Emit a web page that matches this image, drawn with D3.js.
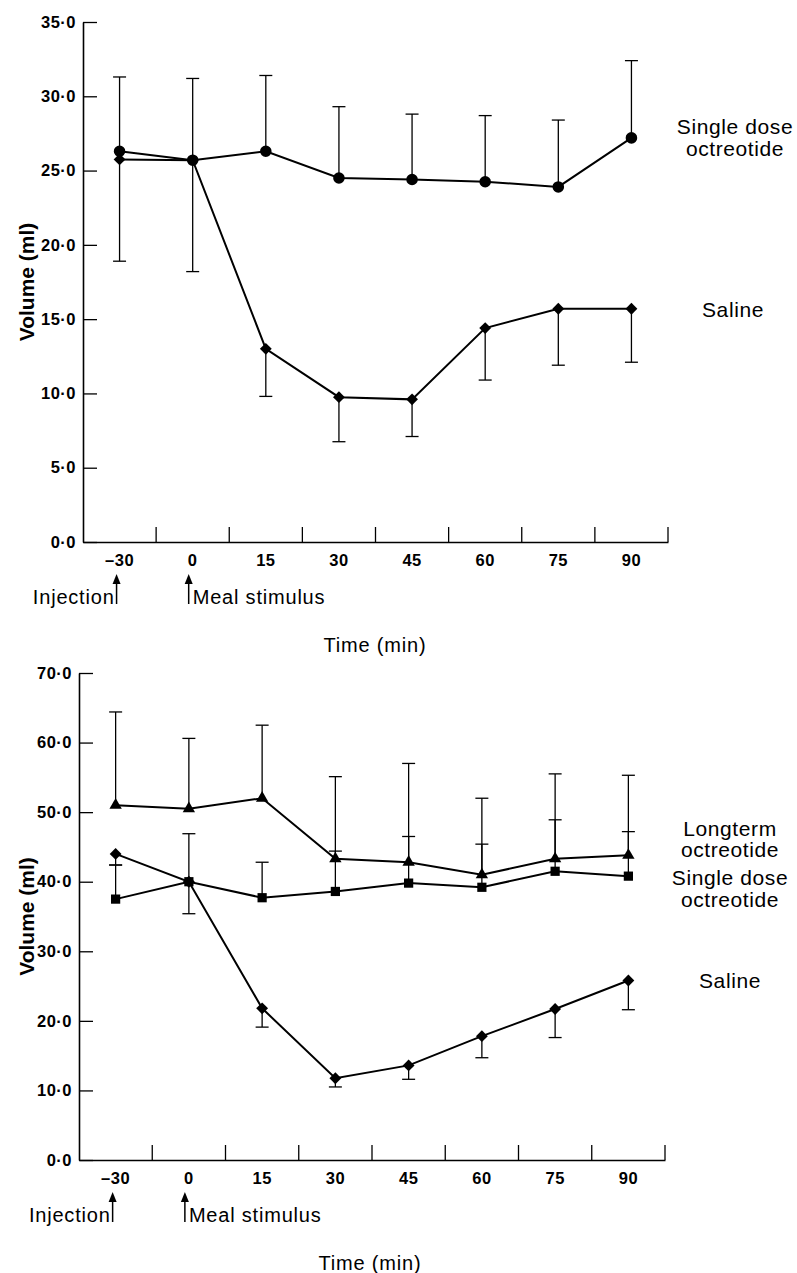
<!DOCTYPE html>
<html>
<head>
<meta charset="utf-8">
<script src="https://cdn.jsdelivr.net/npm/d3@7"></script>
<style>
body { margin: 0; background: #fff; }
text { font-family: "Liberation Sans", Arial, Helvetica, sans-serif; fill: #000; }
</style>
</head>
<body>
<div id="chart"></div>
<script>
var times = ["-30", "0", "15", "30", "45", "60", "75", "90"];
var timeLabels = ["\u201330", "0", "15", "30", "45", "60", "75", "90"];

// upper panel
var topTicks = [0, 5, 10, 15, 20, 25, 30, 35];
var topSingle = [26.3, 25.7, 26.3, 24.5, 24.4, 24.25, 23.9, 27.2];
var topSingleHi = [31.3, 31.2, 31.4, 29.3, 28.8, 28.7, 28.4, 32.4];
var topSaline = [25.75, 25.7, 13.0, 9.75, 9.6, 14.4, 15.7, 15.7];
var topSalineLo = [18.9, 18.2, 9.8, 6.75, 7.1, 10.9, 11.9, 12.1];

// lower panel
var botTicks = [0, 10, 20, 30, 40, 50, 60, 70];
var botLong = [51.0, 50.5, 52.0, 43.3, 42.8, 41.0, 43.3, 43.8];
var botLongHi = [64.4, 60.6, 62.5, 55.1, 57.0, 52.0, 55.5, 55.3];
var botSingle = [37.5, 40.0, 37.7, 38.6, 39.8, 39.2, 41.5, 40.8];
var botSingleHi = [42.4, 46.9, 42.8, 44.4, 46.5, 45.4, 48.9, 47.2];
var botSaline = [44.0, 40.0, 21.8, 11.75, 13.6, 17.8, 21.7, 25.8];
var botSalineLo = [42.4, 35.4, 19.1, 10.5, 11.6, 14.7, 17.6, 21.6];

var width = 797, height = 1273;

var svg = d3.select("#chart").append("svg")
    .attr("width", width)
    .attr("height", height)
    .attr("xmlns", "http://www.w3.org/2000/svg");

var fmt = function(d) { return d3.format(".1f")(d).replace(".", "\u00b7"); };
var tickFont = "'Liberation Sans', Arial, sans-serif";

var symCircle = d3.symbol().type(d3.symbolCircle).size(105)();
var symDiamond = d3.symbol().type(d3.symbolSquare).size(70)();
var symSquare = d3.symbol().type(d3.symbolSquare).size(85)();
var symTriangle = d3.symbol().type(d3.symbolTriangle).size(66)();

function panel(p) {
    var g = svg.append("g");

    var x = d3.scaleBand().domain(times).range([p.x0, p.x1]);
    var y = d3.scaleLinear().domain([0, p.ymax]).range([p.yBottom, p.yTop]);
    var cx = function(i) { return x(times[i]) + x.bandwidth() / 2; };

    // y axis
    var ya = g.append("g")
        .attr("transform", "translate(" + p.x0 + ",0)")
        .call(d3.axisLeft(y).tickValues(p.ticks).tickSizeInner(-14).tickSizeOuter(0)
            .tickPadding(7).tickFormat(fmt));
    ya.select(".domain").attr("stroke", "#000").attr("stroke-width", 1.6);
    ya.selectAll(".tick line").attr("stroke", "#000").attr("stroke-width", 1.3);
    ya.selectAll(".tick text")
        .style("font-family", tickFont)
        .style("font-size", "16.5px").style("font-weight", "bold")
        .style("letter-spacing", "0.5px");

    // x axis
    var xa = g.append("g")
        .attr("transform", "translate(0," + p.yBottom + ")")
        .call(d3.axisBottom(x).tickSize(0).tickPadding(12)
            .tickFormat(function(d, i) { return timeLabels[i]; }));
    xa.select(".domain").attr("stroke", "#000").attr("stroke-width", 1.6);
    xa.selectAll(".tick text")
        .style("font-family", tickFont)
        .style("font-size", "16.5px").style("font-weight", "bold")
        .style("letter-spacing", "0.5px");

    g.append("g").selectAll("line")
        .data(times)
        .join("line")
        .attr("x1", function(d) { return x(d) + x.bandwidth(); })
        .attr("x2", function(d) { return x(d) + x.bandwidth(); })
        .attr("y1", p.yBottom)
        .attr("y2", p.yBottom - 15)
        .attr("stroke", "#000")
        .attr("stroke-width", 1.3);

    // error bars
    p.series.forEach(function(s) {
        var eb = g.append("g").attr("stroke", "#000").attr("stroke-width", 1.3).attr("fill", "none");
        s.values.forEach(function(v, i) {
            var e = s.err[i];
            eb.append("line").attr("x1", cx(i)).attr("x2", cx(i))
                .attr("y1", y(v)).attr("y2", y(e));
            eb.append("line").attr("x1", cx(i) - 6.5).attr("x2", cx(i) + 6.5)
                .attr("y1", y(e)).attr("y2", y(e));
        });
    });

    // lines
    var line = d3.line().x(function(d, i) { return cx(i); }).y(function(d) { return y(d); });
    p.series.forEach(function(s) {
        g.append("path")
            .datum(s.values)
            .attr("d", line)
            .attr("fill", "none")
            .attr("stroke", "#000")
            .attr("stroke-width", 2);
    });

    // markers
    p.series.forEach(function(s) {
        g.append("g").selectAll("path")
            .data(s.values)
            .join("path")
            .attr("d", s.sym)
            .attr("transform", function(d, i) {
                return "translate(" + cx(i) + "," + y(d) + ")" + (s.rot ? " rotate(45)" : "");
            })
            .attr("fill", "#000");
    });

    // series labels
    p.labels.forEach(function(l) {
        g.append("text")
            .attr("x", l.x)
            .attr("y", l.y)
            .attr("text-anchor", "middle")
            .style("font-size", "21px")
            .style("letter-spacing", "0.6px")
            .text(l.text);
    });

    // y title
    g.append("text")
        .attr("transform", "translate(34," + ((p.yTop + p.yBottom) / 2) + ") rotate(-90)")
        .attr("text-anchor", "middle")
        .style("font-size", "21px")
        .style("font-weight", "bold")
        .text("Volume (ml)");

    // event arrows
    var ax1 = cx(0) - 3, ax2 = cx(1) - 4;
    var tipY = p.yBottom + 32, baseY = p.yBottom + 62;
    [ax1, ax2].forEach(function(ax) {
        g.append("line").attr("x1", ax).attr("x2", ax)
            .attr("y1", tipY + 6).attr("y2", baseY)
            .attr("stroke", "#000").attr("stroke-width", 1.5);
        g.append("path")
            .attr("d", "M" + ax + "," + tipY + "L" + (ax - 4) + "," + (tipY + 10) + "L" + (ax + 4) + "," + (tipY + 10) + "Z")
            .attr("fill", "#000");
    });
    g.append("text")
        .attr("x", ax1 - 2).attr("y", baseY)
        .attr("text-anchor", "end")
        .style("font-size", "20px").style("letter-spacing", "0.8px")
        .text("Injection");
    g.append("text")
        .attr("x", ax2 + 4).attr("y", baseY)
        .style("font-size", "20px").style("letter-spacing", "0.8px")
        .text("Meal stimulus");

    // x title
    g.append("text")
        .attr("x", p.titleX).attr("y", p.yBottom + 110)
        .attr("text-anchor", "middle")
        .style("font-size", "20px").style("letter-spacing", "0.8px")
        .text("Time (min)");
}

panel({
    x0: 83, x1: 668, yTop: 22, yBottom: 542, ymax: 35, ticks: topTicks, titleX: 375,
    series: [
        { values: topSingle, err: topSingleHi, sym: symCircle },
        { values: topSaline, err: topSalineLo, sym: symDiamond, rot: true }
    ],
    labels: [
        { text: "Single dose", x: 735, y: 134 },
        { text: "octreotide", x: 735, y: 156 },
        { text: "Saline", x: 733, y: 317 }
    ]
});

panel({
    x0: 79, x1: 665, yTop: 673, yBottom: 1160, ymax: 70, ticks: botTicks, titleX: 370,
    series: [
        { values: botLong, err: botLongHi, sym: symTriangle },
        { values: botSingle, err: botSingleHi, sym: symSquare },
        { values: botSaline, err: botSalineLo, sym: symDiamond, rot: true }
    ],
    labels: [
        { text: "Longterm", x: 730, y: 836 },
        { text: "octreotide", x: 730, y: 857 },
        { text: "Single dose", x: 730, y: 885 },
        { text: "octreotide", x: 730, y: 907 },
        { text: "Saline", x: 730, y: 988 }
    ]
});
</script>
</body>
</html>
